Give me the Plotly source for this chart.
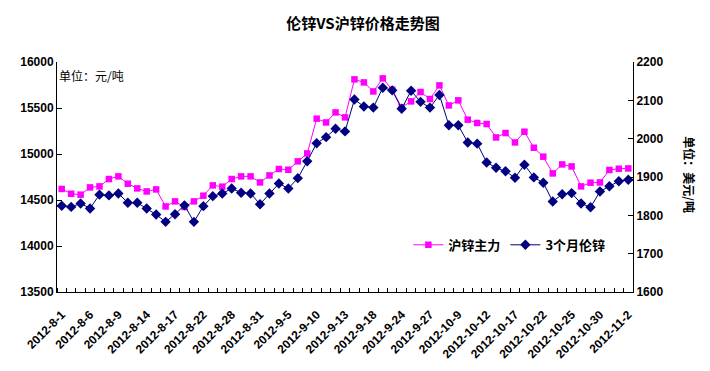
import plotly.graph_objects as go

dates = ["2012-8-1","2012-8-2","2012-8-3","2012-8-6","2012-8-7","2012-8-8","2012-8-9","2012-8-10",
         "2012-8-13","2012-8-14","2012-8-15","2012-8-16","2012-8-17","2012-8-20","2012-8-21","2012-8-22",
         "2012-8-23","2012-8-24","2012-8-28","2012-8-29","2012-8-30","2012-8-31","2012-9-3","2012-9-4",
         "2012-9-5","2012-9-6","2012-9-7","2012-9-10","2012-9-11","2012-9-12","2012-9-13","2012-9-14",
         "2012-9-17","2012-9-18","2012-9-19","2012-9-20","2012-9-24","2012-9-25","2012-9-26","2012-9-27",
         "2012-9-28","2012-10-8","2012-10-9","2012-10-10","2012-10-11","2012-10-12","2012-10-15","2012-10-16",
         "2012-10-17","2012-10-18","2012-10-19","2012-10-22","2012-10-23","2012-10-24","2012-10-25","2012-10-26",
         "2012-10-29","2012-10-30","2012-10-31","2012-11-1","2012-11-2"]

shfe_zinc = [14620,14568,14558,14637,14648,14728,14757,14677,14626,14593,14615,14430,14485,14424,14485,14547,
             14659,14645,14728,14757,14757,14691,14767,14837,14829,14920,15006,15384,15343,15452,15398,15811,
             15778,15680,15822,15699,15507,15572,15674,15598,15746,15528,15583,15373,15337,15326,15180,15228,
             15126,15242,15068,14971,14789,14887,14865,14648,14688,14691,14826,14840,14843]

lme_zinc = [1825,1822,1831,1818,1854,1852,1857,1833,1833,1818,1802,1783,1803,1826,1783,1824,
            1850,1857,1870,1859,1857,1829,1857,1883,1870,1897,1941,1988,2004,2026,2019,2102,
            2084,2081,2133,2126,2078,2125,2096,2081,2114,2035,2035,1990,1987,1938,1924,1915,
            1898,1932,1899,1885,1836,1855,1858,1831,1821,1862,1876,1889,1893]

left_ticks = [13500, 14000, 14500, 15000, 15500, 16000]
right_ticks = [1600, 1700, 1800, 1900, 2000, 2100, 2200]

idx = list(range(len(dates)))
label_idx = idx[::3]

fig = go.Figure()
fig.add_trace(go.Scatter(
    x=idx, y=shfe_zinc, name="<b>沪锌主力</b>", mode="lines+markers",
    line=dict(color="#FF00FF", width=1),
    marker=dict(symbol="square", size=6.5, color="#FF00FF"),
    yaxis="y"))
fig.add_trace(go.Scatter(
    x=idx, y=lme_zinc, name="<b>3个月伦锌</b>", mode="lines+markers",
    line=dict(color="#000080", width=1),
    marker=dict(symbol="diamond", size=8, color="#000080"),
    yaxis="y2"))

axis_font = dict(family="Arial, Liberation Sans", size=12, color="black")

fig.update_layout(
    width=710, height=371,
    margin=dict(l=45, r=85, t=54, b=87),
    paper_bgcolor="white", plot_bgcolor="white",
    font=dict(family="Noto Sans CJK SC", color="black"),
    title=dict(text="<b>伦锌VS沪锌价格走势图</b>", x=0.5, xanchor="center", y=0.958, yanchor="middle",
               font=dict(family="Noto Sans CJK SC", size=15, color="black")),
    xaxis=dict(
        range=[-0.5, len(dates) - 0.5],
        tickmode="array", tickvals=label_idx, ticktext=["<b>%s</b>" % dates[i] for i in label_idx],
        tickangle=-45, tickfont=dict(family="Arial, Liberation Sans", size=12, color="black"),
        ticklabelstandoff=10,
        ticks="", showgrid=False, zeroline=False,
        showline=True, linecolor="black", linewidth=1,
        minor=dict(tick0=-0.5, dtick=1, ticks="inside", ticklen=4, tickcolor="black", showgrid=False),
    ),
    yaxis=dict(
        range=[13500, 16000], tickmode="array", tickvals=left_ticks,
        ticktext=["<b>%d</b>" % v for v in left_ticks],
        tickfont=axis_font, ticks="inside", ticklen=5, tickcolor="black",
        showgrid=False, zeroline=False, showline=True, linecolor="black", linewidth=1,
    ),
    yaxis2=dict(
        range=[1600, 2200], tickmode="array", tickvals=right_ticks,
        ticktext=["<b>%d</b>" % v for v in right_ticks],
        tickfont=axis_font, ticks="inside", ticklen=5, tickcolor="black",
        overlaying="y", side="right",
        showgrid=False, zeroline=False, showline=True, linecolor="black", linewidth=1,
    ),
    legend=dict(orientation="h", x=0.61, y=0.205, xanchor="left", yanchor="middle",
                font=dict(family="Noto Sans CJK SC", size=13, color="black"),
                bgcolor="rgba(0,0,0,0)", itemwidth=30, tracegroupgap=0),
    annotations=[
        dict(text="单位：元/吨", xref="paper", yref="paper", x=0.0, y=0.985, xanchor="left", yanchor="top",
             showarrow=False, font=dict(family="Noto Sans CJK SC", size=12, color="black")),
        dict(text="<b>单位：美元/吨</b>", xref="paper", yref="paper", x=1.098, y=0.51,
             xanchor="center", yanchor="middle", textangle=90,
             showarrow=False, font=dict(family="Noto Sans CJK SC", size=12, color="black")),
    ],
)

fig.write_html("out.html")
